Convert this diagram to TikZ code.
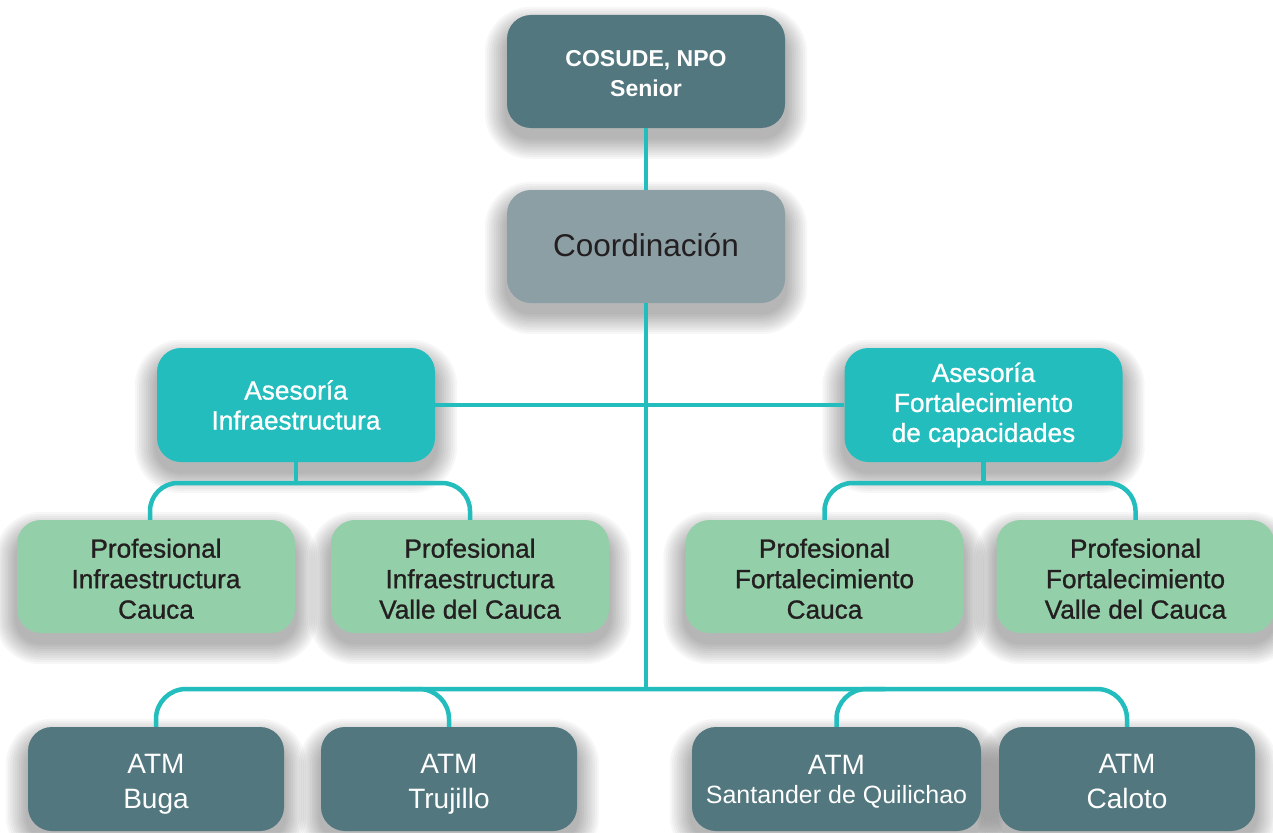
\documentclass[tikz,border=0pt]{standalone}
\usepackage{fontspec}
\setmainfont{Liberation Sans}
\newfontfamily\medfont[FakeBold=1.0]{Liberation Sans}

\definecolor{deepteal}{HTML}{52777E}
\definecolor{slategray}{HTML}{8B9FA5}
\definecolor{brightteal}{HTML}{24BDBE}
\definecolor{mintgreen}{HTML}{93CFA8}
\definecolor{inkdark}{HTML}{231F20}

% strut that raises the first line of a box
\newcommand{\firstgap}[1]{\rule{0pt}{#1}}

\pgfdeclarelayer{canvas}
\pgfdeclarelayer{shade}
\pgfsetlayers{canvas,shade,main}

\begin{document}
\begin{tikzpicture}[x=1pt,y=1pt,
  orgbox/.style={rounded corners=24pt, minimum width=278pt, minimum height=113pt,
    align=center, inner sep=0pt},
  topbox/.style={orgbox, fill=deepteal, text=white,
    font=\bfseries\fontsize{23}{30}\selectfont},
  coordbox/.style={orgbox, fill=slategray, text=inkdark,
    font=\fontsize{31.5}{36}\selectfont},
  advbox/.style={orgbox, minimum height=114pt, fill=brightteal, text=white,
    font=\medfont\fontsize{26.2}{30}\selectfont},
  profbox/.style={orgbox, fill=mintgreen, text=inkdark,
    font=\medfont\fontsize{26.2}{30.5}\selectfont},
  atmbox/.style={orgbox, minimum width=256pt, minimum height=104pt, fill=deepteal, text=white,
    font=\fontsize{28}{35}\selectfont},
  link/.style={draw=brightteal, line width=4.5pt}
]
\useasboundingbox (0,0) rectangle (1273,-832);

% top of the hierarchy
\node[topbox]   (npo)   at (646,-71.5)  {\firstgap{21pt}COSUDE, NPO\\Senior};
\node[coordbox] (coord) at (646,-246.5) {Coordinación\rule[-4pt]{0pt}{4pt}};

% advisory units
\node[advbox] (ainf) at (296,-405)   {Asesoría\\Infraestructura};
\node[advbox] (afor) at (983.5,-405) {Asesoría\\Fortalecimiento\\de capacidades};

% professionals
\node[profbox] (p1) at (156,-576.5)    {\firstgap{23.5pt}Profesional\\Infraestructura\\Cauca};
\node[profbox] (p2) at (470,-576.5)    {\firstgap{23.5pt}Profesional\\Infraestructura\\Valle del Cauca};
\node[profbox] (p3) at (824.5,-576.5)  {\firstgap{23.5pt}Profesional\\Fortalecimiento\\Cauca};
\node[profbox] (p4) at (1135.5,-576.5) {\firstgap{23.5pt}Profesional\\Fortalecimiento\\Valle del Cauca};

% local technical teams
\node[atmbox] (a1) at (156,-779)  {\firstgap{30pt}ATM\\Buga\rule[-7pt]{0pt}{7pt}};
\node[atmbox] (a2) at (449,-779)  {\firstgap{30pt}ATM\\Trujillo\rule[-7pt]{0pt}{7pt}};
\node[atmbox, minimum width=289pt] (a3) at (836.5,-779)
  {\firstgap{26pt}ATM\\[-6pt]{\fontsize{25}{30}\selectfont Santander de Quilichao}\rule[-7pt]{0pt}{7pt}};
\node[atmbox] (a4) at (1127,-779) {\firstgap{30pt}ATM\\Caloto\rule[-7pt]{0pt}{7pt}};

% soft shadows under every box, and the white canvas
\begin{pgfonlayer}{shade}
  \foreach \n in {npo,coord,ainf,afor,p1,p2,p3,p4,a1,a2,a3,a4}{
    \foreach \k [evaluate=\k as \e using 2.2*\k,
                 evaluate=\k as \r using 24+2.2*\k] in {1,...,10}{
      \fill[black, opacity=0.03, rounded corners=\r pt]
        ([shift={(-\e pt,-\e pt-9pt)}]\n.south west)
        rectangle ([shift={(\e pt,\e pt-14pt)}]\n.north east);
    }
  }
\end{pgfonlayer}
\begin{pgfonlayer}{canvas}
  \fill[white] (0,0) rectangle (1273,-832);
\end{pgfonlayer}

% bus junctions
\coordinate (jinf) at (296,-483);
\coordinate (jfor) at (983.5,-483);
\coordinate (jatm) at (646,-689);
\coordinate (ta2)  at (400,-689);
\coordinate (ta3)  at (885,-689);

% connectors
\draw[link] (npo.south) -- (coord.north);
\draw[link] (coord.south) -- (jatm);
\draw[link] (ainf.east) -- (afor.west);

\draw[link] (ainf.south) -- (jinf);
\draw[link, rounded corners=28pt] ([xshift=-6pt]p1.north) |- (jinf) -| (p2.north);

\draw[link] (afor.south) -- (jfor);
\draw[link, rounded corners=28pt] (p3.north) |- (jfor) -| (p4.north);

\draw[link, rounded corners=30pt] (a1.north) |- (jatm) -| (a4.north);
\draw[link, rounded corners=30pt] (ta2) -| (a2.north);
\draw[link, rounded corners=30pt] (ta3) -| (a3.north);
\end{tikzpicture}
\end{document}
